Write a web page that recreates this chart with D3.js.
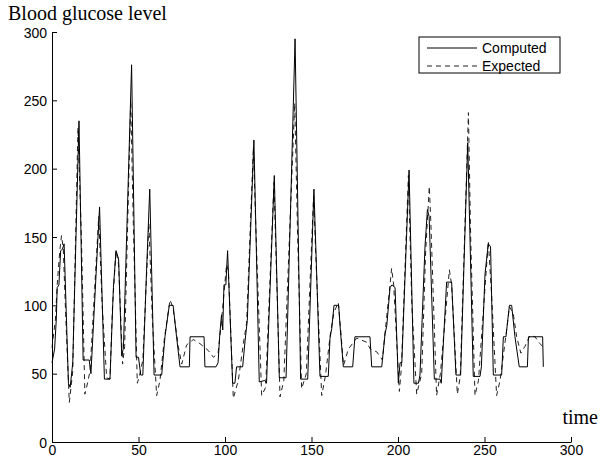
<!DOCTYPE html>
<html>
<head>
<meta charset="utf-8">
<script src="https://cdn.jsdelivr.net/npm/d3@7"></script>
<style>
  body { margin: 0; background: #fff; }
  svg { display: block; }
  .tick text { font-family: Arial, "Liberation Sans", sans-serif; font-size: 14px; fill: #000; }
  .lbl { font-family: "Times New Roman", "Liberation Serif", serif; fill: #000; }
</style>
</head>
<body>
<svg id="chart" width="603" height="463"></svg>
<script>
// time / value pairs
const computedT = [0, 1.5, 2.5, 3, 4, 5, 6, 7, 9.5, 10.5, 12, 15.6, 18, 21.5, 22.5, 27.5, 30.3, 33.5, 35.5, 37, 38.5, 40.3, 41.3, 46, 48.6, 50, 51.3, 52.5, 54.5, 56.5, 59, 63.4, 65.3, 67.8, 70, 72, 74, 79.4, 79.8, 87.9, 88.4, 94.8, 96, 97, 98, 98.7, 99.4, 100.5, 101.5, 104.4, 105.7, 106.7, 110.2, 111.6, 112.9, 116.7, 119.8, 123, 124, 128.5, 131.4, 135.3, 140.5, 143.7, 147.8, 151.4, 154.9, 159.7, 160.7, 161.7, 163, 165.7, 166.5, 168.4, 173.8, 175.1, 183.8, 184.8, 190.6, 192.5, 193.5, 195.4, 196.5, 198.3, 200.2, 201.2, 202.2, 206.4, 209.2, 211.8, 212.7, 215.6, 217, 218, 221, 224.3, 225, 228.1, 231, 233.5, 236.2, 240.3, 243.5, 247.4, 248.2, 250.3, 252.2, 253.5, 255.1, 259.9, 260.9, 262.4, 264.4, 265.7, 267.6, 270.1, 274.8, 275.4, 283.6, 284];
const computedV = [58, 68, 90, 113, 115, 140, 141, 145, 43, 40, 58, 235, 60, 60, 50, 172, 46, 46, 113, 140, 134, 63, 69, 276, 62, 62, 49, 49, 120, 185, 49, 49, 77, 100, 100, 77, 55, 55, 77, 77, 55, 55, 58, 79, 93, 82, 115, 115, 140, 43, 43, 55, 55, 74, 89, 221, 44, 45, 43, 195, 47, 47, 295, 46, 46, 185, 48, 48, 76, 83, 100, 100, 85, 55, 55, 77, 77, 55, 55, 79, 85, 113, 115, 113, 43, 58, 58, 199, 43, 43, 49, 143, 170, 165, 46, 46, 43, 117, 117, 49, 49, 219, 48, 48, 55, 123, 145, 143, 49, 49, 77, 77, 100, 100, 77, 55, 55, 77, 77, 55];

const expectedT = [0, 2, 3, 4.5, 5.5, 6.5, 8, 10, 11, 12, 15, 17, 19, 20, 22, 27, 29, 31.6, 33.5, 35, 37, 38.5, 40.8, 42, 45.5, 47, 49.3, 50.5, 52.5, 56, 58, 60.5, 62.4, 65, 68.2, 70, 73, 75, 77.8, 81.7, 85.5, 90.3, 93.3, 96, 98, 100.9, 102, 104.8, 107.7, 110.6, 112.5, 116.4, 118, 121.2, 123.5, 128.3, 131.8, 134, 140.3, 142, 144.3, 147, 151.2, 153, 155.9, 158, 161, 163, 165.5, 167, 168.5, 171.3, 176.1, 181.9, 184, 187.7, 191, 192.5, 195, 196.3, 197.5, 200.8, 202, 206, 208, 210.8, 213.7, 216, 218.1, 219, 222.3, 224.5, 229.7, 231, 234.3, 236, 240.7, 242, 244.5, 246.5, 252.2, 254, 257, 259, 263, 264.4, 266.6, 268.6, 271, 273.4, 276.3, 279.2, 282, 283.6];
const expectedV = [69, 90, 115, 140, 151, 142, 90, 29, 40, 52, 230, 150, 35, 40, 52, 165, 100, 47, 46, 100, 140, 130, 57, 70, 250, 160, 43, 48, 60, 160, 90, 34, 45, 76, 104, 98, 70, 57, 71, 75, 72, 67, 62, 65, 89, 130, 125, 32, 45, 72, 87, 216, 150, 34, 40, 190, 33, 45, 248, 150, 39, 50, 180, 120, 34, 48, 80, 95, 102, 80, 56, 68, 76, 73, 68, 66, 60, 80, 110, 127, 115, 37, 55, 195, 100, 35, 50, 140, 187, 160, 34, 50, 126, 115, 35, 48, 241, 150, 34, 45, 147, 110, 34, 45, 84, 99, 94, 77, 65, 70, 78, 77, 72, 70];

const xTicks = [0, 50, 100, 150, 200, 250, 300];
const yTicks = [0, 50, 100, 150, 200, 250, 300];
const seriesNames = ["Computed", "Expected"];

const svg = d3.select("#chart");
const margin = {top: 32, right: 32, bottom: 21, left: 52};
const width = 603 - margin.left - margin.right;
const height = 463 - margin.top - margin.bottom;

const x = d3.scaleLinear().domain([0, 300]).range([0, width]);
const y = d3.scaleLinear().domain([0, 300]).range([height, 0]);

const g = svg.append("g").attr("transform", `translate(${margin.left},${margin.top})`);

const line = d3.line().x(d => x(d[0])).y(d => y(d[1]));
const computed = computedT.map((t, i) => [t, computedV[i]]);
const expected = expectedT.map((t, i) => [t, expectedV[i]]);

g.append("path")
    .datum(expected)
    .attr("fill", "none")
    .attr("stroke", "#222")
    .attr("stroke-width", 1)
    .attr("stroke-dasharray", "5,4")
    .attr("d", line);

g.append("path")
    .datum(computed)
    .attr("fill", "none")
    .attr("stroke", "#000")
    .attr("stroke-width", 1)
    .attr("d", line);

const xAxis = g.append("g")
    .attr("transform", `translate(0,${height})`)
    .call(d3.axisBottom(x).tickValues(xTicks).tickSize(-5).tickSizeOuter(0).tickPadding(3));
const yAxis = g.append("g")
    .call(d3.axisLeft(y).tickValues(yTicks).tickSize(-5).tickSizeOuter(0).tickPadding(5));
[xAxis, yAxis].forEach(a => a.selectAll("path, line").attr("stroke", "#000"));
yAxis.selectAll(".tick text").attr("dy", "0.36em");

// axis titles
svg.append("text").attr("class", "lbl")
    .attr("x", 8).attr("y", 20)
    .style("font-size", "20px")
    .text("Blood glucose level");
svg.append("text").attr("class", "lbl")
    .attr("x", 598).attr("y", 424)
    .attr("text-anchor", "end")
    .style("font-size", "20px")
    .text("time");

// legend
const legend = svg.append("g").attr("transform", "translate(419,37)");
legend.append("rect")
    .attr("width", 141).attr("height", 36)
    .attr("fill", "#fff").attr("stroke", "#000");
seriesNames.forEach((name, i) => {
    const ly = 11 + i * 18;
    legend.append("line")
        .attr("x1", 8).attr("x2", 58).attr("y1", ly).attr("y2", ly)
        .attr("stroke", i ? "#222" : "#000")
        .attr("stroke-dasharray", i ? "5,4" : null);
    legend.append("text")
        .attr("x", 63).attr("y", ly).attr("dy", "0.36em")
        .style("font-family", "Arial, 'Liberation Sans', sans-serif")
        .style("font-size", "14px")
        .text(name);
});
</script>
</body>
</html>
